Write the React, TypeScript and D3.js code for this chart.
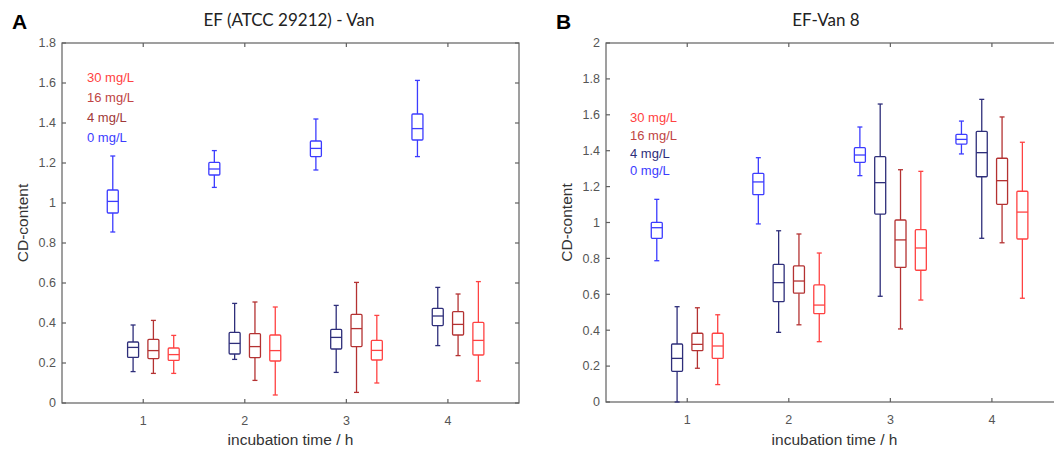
import React from "react";
import * as d3 from "d3";

// ---------- data ----------
const groups = [1, 2, 3, 4];
const seriesNames = ["0 mg/L", "4 mg/L", "16 mg/L", "30 mg/L"];
const seriesOffsets = [-0.3, -0.1, 0.1, 0.3];
// each entry: [lowWhisker, q1, median, q3, highWhisker]
const A_0 = [[0.855, 0.95, 1.008, 1.065, 1.235], [1.078, 1.14, 1.17, 1.203, 1.262], [1.165, 1.232, 1.273, 1.31, 1.42], [1.232, 1.315, 1.372, 1.445, 1.613]];
const A_4 = [[0.157, 0.228, 0.278, 0.305, 0.39], [0.218, 0.245, 0.298, 0.353, 0.498], [0.153, 0.27, 0.328, 0.368, 0.488], [0.287, 0.387, 0.435, 0.473, 0.578]];
const A_16 = [[0.148, 0.222, 0.262, 0.318, 0.413], [0.113, 0.227, 0.282, 0.347, 0.505], [0.053, 0.282, 0.372, 0.443, 0.603], [0.237, 0.34, 0.393, 0.457, 0.545]];
const A_30 = [[0.148, 0.213, 0.242, 0.275, 0.338], [0.04, 0.21, 0.262, 0.34, 0.48], [0.1, 0.215, 0.263, 0.313, 0.438], [0.11, 0.24, 0.313, 0.403, 0.607]];

const B_0 = [[0.787, 0.912, 0.971, 1.001, 1.129], [0.992, 1.155, 1.226, 1.274, 1.361], [1.261, 1.335, 1.376, 1.417, 1.532], [1.382, 1.437, 1.463, 1.491, 1.565]];
const B_4 = [[0, 0.171, 0.243, 0.323, 0.531], [0.388, 0.559, 0.665, 0.767, 0.954], [0.589, 1.047, 1.222, 1.367, 1.66], [0.912, 1.255, 1.389, 1.508, 1.686]];
const B_16 = [[0.188, 0.286, 0.321, 0.383, 0.525], [0.43, 0.606, 0.674, 0.758, 0.936], [0.407, 0.75, 0.903, 1.014, 1.294], [0.887, 1.101, 1.233, 1.358, 1.588]];
const B_30 = [[0.097, 0.243, 0.312, 0.383, 0.486], [0.336, 0.492, 0.54, 0.652, 0.83], [0.568, 0.734, 0.858, 0.96, 1.285], [0.578, 0.908, 1.058, 1.174, 1.447]];

const yTicksA = [0, 0.2, 0.4, 0.6, 0.8, 1, 1.2, 1.4, 1.6, 1.8];
const yTicksB = [0, 0.2, 0.4, 0.6, 0.8, 1, 1.2, 1.4, 1.6, 1.8, 2];

const BLUE = "#3c3cff";
const NAVY = "#2e2e7a";
const DARKRED = "#b43232";
const RED = "#ff4242";
const AXIS = "#606060";

type Panel = {
  letter: string;
  title: string;
  titleX: number;
  left: number;
  right: number;
  top: number;
  bottom: number;
  yMax: number;
  yTicks: number[];
  series: number[][][];
  boxColors: string[];
  legendColors: string[];
  legendX: number;
  legendY: number;
  legendStep: number;
  ylabelX: number;
  letterX: number;
};

const panels: Panel[] = [
  {
    letter: "A", title: "EF (ATCC 29212) - Van", titleX: 289,
    left: 62, right: 519, top: 43, bottom: 403, yMax: 1.8, yTicks: yTicksA,
    series: [A_0, A_4, A_16, A_30],
    boxColors: [BLUE, NAVY, DARKRED, RED],
    legendColors: [BLUE, "#a03838", "#c04444", RED],
    legendX: 87, legendY: 77, legendStep: 20.3, ylabelX: 23, letterX: 12,
  },
  {
    letter: "B", title: "EF-Van 8", titleX: 826,
    left: 606, right: 1063, top: 43, bottom: 402, yMax: 2, yTicks: yTicksB,
    series: [B_0, B_4, B_16, B_30],
    boxColors: [BLUE, NAVY, DARKRED, RED],
    legendColors: [BLUE, NAVY, "#c04444", RED],
    legendX: 630, legendY: 117.5, legendStep: 17.8, ylabelX: 567, letterX: 556,
  },
];

const PanelView = ({ p }: { p: Panel }) => {
  const x = d3.scaleLinear().domain([0.2, 4.7]).range([p.left, p.right]);
  const y = d3.scaleLinear().domain([0, p.yMax]).range([p.bottom, p.top]);
  const bw = 5.5;
  const cap = 2.5;
  const tickLen = 4;
  const sw = 1.3;
  const midY = (p.top + p.bottom) / 2;
  const midX = (p.left + p.right) / 2;
  const legendOrder = [3, 2, 1, 0];
  return (
    <g>
      <text x={p.letterX} y={29} fontFamily="Liberation Sans, Arial, sans-serif" fontWeight="bold" fontSize={21} fill="#000">{p.letter}</text>
      <text x={p.titleX} y={26} textAnchor="middle" fontFamily="Lato, sans-serif" fontSize={17} fill="#222">{p.title}</text>
      {/* axes frame */}
      <rect x={p.left} y={p.top} width={p.right - p.left} height={p.bottom - p.top} fill="none" stroke={AXIS} strokeWidth={1.2} />
      {p.yTicks.map((t) => (
        <g key={"y" + t}>
          <line x1={p.left} x2={p.left + tickLen} y1={y(t)} y2={y(t)} stroke={AXIS} strokeWidth={1.2} />
          <line x1={p.right} x2={p.right - tickLen} y1={y(t)} y2={y(t)} stroke={AXIS} strokeWidth={1.2} />
          <text x={p.left - 6} y={y(t)} dy="0.35em" textAnchor="end" fontFamily="Liberation Sans, Arial, sans-serif" fontSize={12.5} fill="#555">{String(t)}</text>
        </g>
      ))}
      {groups.map((g) => (
        <g key={"x" + g}>
          <line x1={x(g)} x2={x(g)} y1={p.bottom} y2={p.bottom - tickLen} stroke={AXIS} strokeWidth={1.2} />
          <line x1={x(g)} x2={x(g)} y1={p.top} y2={p.top + tickLen} stroke={AXIS} strokeWidth={1.2} />
          <text x={x(g)} y={p.bottom + 22} textAnchor="middle" fontFamily="Liberation Sans, Arial, sans-serif" fontSize={12.5} fill="#555">{String(g)}</text>
        </g>
      ))}
      <text x={midX} y={445} textAnchor="middle" fontFamily="Liberation Sans, Arial, sans-serif" fontSize={15.5} fill="#333">incubation time / h</text>
      <text transform={`translate(${p.ylabelX},${midY}) rotate(-90)`} textAnchor="middle" dy="0.35em" fontFamily="Liberation Sans, Arial, sans-serif" fontSize={15.5} fill="#333">CD-content</text>
      {/* boxes */}
      {p.series.map((s, si) =>
        s.map((v, gi) => {
          const cx = x(groups[gi] + seriesOffsets[si]);
          const c = p.boxColors[si];
          const [lo, q1, med, q3, hi] = v;
          return (
            <g key={`b${si}-${gi}`} stroke={c} strokeWidth={sw} fill="none">
              <line x1={cx} x2={cx} y1={y(hi)} y2={y(q3)} />
              <line x1={cx} x2={cx} y1={y(q1)} y2={y(lo)} />
              <line x1={cx - cap} x2={cx + cap} y1={y(hi)} y2={y(hi)} />
              <line x1={cx - cap} x2={cx + cap} y1={y(lo)} y2={y(lo)} />
              <rect x={cx - bw} y={y(q3)} width={bw * 2} height={y(q1) - y(q3)} rx={1} fill="#fff" />
              <line x1={cx - bw} x2={cx + bw} y1={y(med)} y2={y(med)} />
            </g>
          );
        })
      )}
      {/* legend text */}
      {legendOrder.map((si, k) => (
        <text key={"l" + si} x={p.legendX} y={p.legendY + k * p.legendStep} dy="0.35em" fontFamily="Liberation Sans, Arial, sans-serif" fontSize={13} fill={p.legendColors[si]}>{seriesNames[si]}</text>
      ))}
    </g>
  );
};

export default function App() {
  return (
    <svg width={1054} height={450} style={{ position: "absolute", left: 0, top: 0, background: "#fff" }}>
      <rect x={0} y={0} width={1054} height={450} fill="#fff" />
      {panels.map((p) => (
        <PanelView key={p.letter} p={p} />
      ))}
    </svg>
  );
}
